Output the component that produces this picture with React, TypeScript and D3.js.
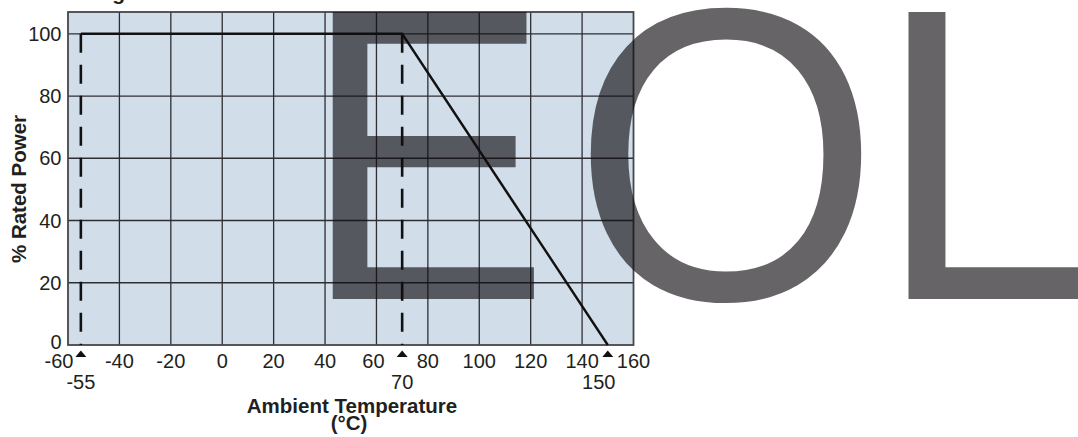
import React from "react";
import * as d3 from "d3";

// chart values
const xTicks = [-60, -40, -20, 0, 20, 40, 60, 80, 100, 120, 140, 160];
const yTicks = [0, 20, 40, 60, 80, 100];
const curveTemp = [-55, 70, 150];
const curvePower = [100, 100, 0];
const dashTemps = [-55, 70];
const markerTemps = [-55, 70, 150];
const markerLabels = ["-55", "70", "150"];
const stampLetters = ["E", "O", "L"];

const W = 1078;
const H = 437;
const FONT = "'Liberation Sans', Arial, Helvetica, sans-serif";

// stamp letters are drawn one by one, the original face is narrower than Liberation
const stampPlace: Record<string, [number, number]> = {
  E: [302.3, 0.89],
  O: [572, 0.95],
  L: [876, 0.95],
};

export default function App() {
  const x = d3.scaleLinear().domain([-60, 160]).range([68, 633.5]);
  const y = d3.scaleLinear().domain([0, 107]).range([345, 12]);

  const pts = curveTemp.map((t, i) => [t, curvePower[i]] as [number, number]);
  const line = d3
    .line<[number, number]>()
    .x((d) => x(d[0]))
    .y((d) => y(d[1]));

  const x0 = x(-60);
  const x1 = x(160);
  const y0 = y(0);
  const y1 = y(107);

  // small nudges so labels clear the triangle markers
  const tickDx = (t: number) => (t === -60 ? -9 : t === 60 ? -3 : 0);
  const markDx = (t: number) => (t === 150 ? -9 : 0);

  return (
    <svg
      width={W}
      height={H}
      style={{ position: "absolute", left: 0, top: 0, background: "#fff" }}
      fontFamily={FONT}
    >
      <rect x={x0} y={y1} width={x1 - x0} height={y0 - y1} fill="#d1deea" />

      {/* grid */}
      {xTicks.slice(1, -1).map((t) => (
        <line key={"gx" + t} x1={x(t)} x2={x(t)} y1={y1} y2={y0} stroke="#2e2e32" strokeWidth={1.3} />
      ))}
      {yTicks.slice(1).map((v) => (
        <line key={"gy" + v} x1={x0} x2={x1} y1={y(v)} y2={y(v)} stroke="#2e2e32" strokeWidth={1.3} />
      ))}
      <rect x={x0} y={y1} width={x1 - x0} height={y0 - y1} fill="none" stroke="#46464a" strokeWidth={1.8} />

      {/* dashed drops */}
      {dashTemps.map((t) => (
        <line
          key={"d" + t}
          x1={x(t)}
          x2={x(t)}
          y1={y(100)}
          y2={y(0)}
          stroke="#111"
          strokeWidth={2.6}
          strokeDasharray="19,12"
        />
      ))}

      <path d={line(pts) || ""} fill="none" stroke="#111" strokeWidth={2.4} strokeLinejoin="miter" />

      {/* y tick labels */}
      {yTicks.map((v) => (
        <text
          key={"yl" + v}
          x={61.5}
          y={y(v) - (v === 0 ? 3 : 0)}
          textAnchor="end"
          dominantBaseline="central"
          fontSize={20}
          fill="#231f20"
        >
          {v}
        </text>
      ))}

      {/* x tick labels */}
      {xTicks.map((t) => (
        <text key={"xl" + t} x={x(t) + tickDx(t)} y={368} textAnchor="middle" fontSize={20} fill="#231f20">
          {t}
        </text>
      ))}

      {/* markers */}
      {markerTemps.map((t, i) => (
        <g key={"m" + t}>
          <path d={`M${x(t)},${350.5}L${x(t) + 5.5},${357}L${x(t) - 5.5},${357}Z`} fill="#111" />
          <text x={x(t) + markDx(t)} y={389} textAnchor="middle" fontSize={20} fill="#231f20">
            {markerLabels[i]}
          </text>
        </g>
      ))}

      {/* axis titles */}
      <text x={352} y={413} textAnchor="middle" fontSize={20.5} fontWeight="bold" fill="#231f20">
        Ambient Temperature
      </text>
      <text x={349} y={430} textAnchor="middle" fontSize={20.5} fontWeight="bold" fill="#231f20">
        (°C)
      </text>
      <text
        transform="translate(25.5,189) rotate(-90)"
        textAnchor="middle"
        fontSize={20.5}
        fontWeight="bold"
        fill="#231f20"
      >
        % Rated Power
      </text>

      {/* cut-off title */}
      <text x={40} y={-0.5} fontSize={21} fontWeight="bold" fill="#231f20">
        Derating
      </text>

      {/* EOL stamp */}
      {stampLetters.map((ch) => (
        <text
          key={ch}
          transform={`translate(${stampPlace[ch][0]},299) scale(${stampPlace[ch][1]},1)`}
          fontSize={417}
          fill="#0f0d0f"
          fillOpacity={0.64}
        >
          {ch}
        </text>
      ))}
    </svg>
  );
}
